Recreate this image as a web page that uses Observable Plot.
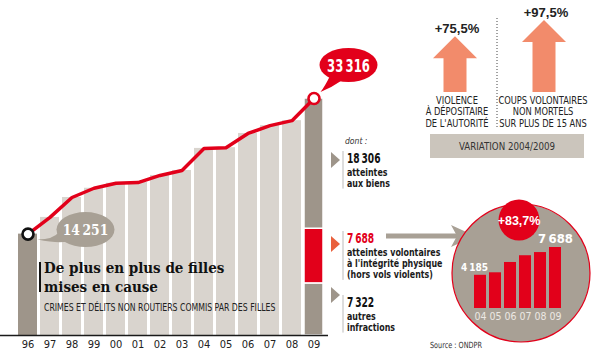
<!DOCTYPE html>
<html><head><meta charset="utf-8">
<script src="https://cdn.jsdelivr.net/npm/d3@7"></script>
<script src="https://cdn.jsdelivr.net/npm/@observablehq/plot@0.6"></script>
<style>
body{margin:0;background:#fff;}
#wrap{position:relative;width:600px;height:355px;overflow:hidden;background:#fff;}
#wrap svg{position:absolute;left:0;top:0;}
</style></head><body><div id="wrap"></div>
<script>
// ---- data ----
const years = ["96","97","98","99","00","01","02","03","04","05","06","07","08","09"];
const totals = [14251,16600,19400,20700,21400,21500,22500,23200,26300,26400,28400,29500,30200,33316];
const segLabels = ["autres infractions","atteintes volontaires à l'intégrité physique","atteintes aux biens"];
const segValues = [7322, 7688, 18306];
const insetYears = ["04","05","06","07","08","09"];
const insetValues = [4185,4500,5800,6650,7050,7688];
const insetChange = "+83,7%";
const varLabels = [["VIOLENCE","À DÉPOSITAIRE","DE L'AUTORITÉ"],["COUPS VOLONTAIRES","NON MORTELS","SUR PLUS DE 15 ANS"]];
const varValues = [75.5, 97.5];
const varTitle = "VARIATION 2004/2009";
const title = ["De plus en plus de filles","mises en cause"];
const subtitle = "CRIMES ET DÉLITS NON ROUTIERS COMMIS PAR DES FILLES";
const source = "Source : ONDPR";

// ---- style ----
const RED="#e2001a", DARK="#9e958a", LIGHT="#d9d4ce", CIRC="#a8a095", SALMON="#f28b6b", ORANGE="#e9603c";
const NARROW="'Liberation Sans Narrow','DejaVu Sans Condensed',sans-serif";
const SANS="'Liberation Sans',Arial,sans-serif";
const SERIF="'DejaVu Serif Condensed','DejaVu Serif',serif";
const fmt = v => String(v).replace(/\B(?=(\d{3})+(?!\d))/g, "\u2009");

const rows = years.map((y,i)=>({year:y,total:totals[i]}));
const lastYear = years[years.length-1];
const segColors = [DARK, RED, DARK];
const segRows = segValues.map((v,i)=>({year:lastYear,label:segLabels[i],value:v,color:segColors[i]}));

const main = Plot.plot({
  width:600, height:355, marginTop:0, marginLeft:0, marginRight:272, marginBottom:20,
  style:{fontFamily:NARROW, fontSize:"11px", color:"#222", background:"transparent"},
  x:{domain:years, range:[9.4,332], padding:0.15, tickSize:0, tickPadding:5, label:null},
  y:{domain:[0,33316], range:[335,98], axis:null},
  color:{type:"identity"},
  marks:[
    Plot.barY(rows.filter(d=>d.year!==lastYear),{x:"year",y:"total",fill:d=>d.year===years[0]?DARK:LIGHT}),
    Plot.barY(segRows,{x:"year",y:"value",fill:"color",stroke:"white",strokeWidth:1.5}),
    Plot.ruleY([0],{stroke:"#1a1a1a",strokeWidth:1.3}),
    Plot.line(rows,{x:"year",y:"total",stroke:RED,strokeWidth:3.5}),
    Plot.dot([rows[0],rows[rows.length-1]],{x:"year",y:"total",r:5.5,fill:"white",stroke:d=>d.year===years[0]?"#111":RED,strokeWidth:2.6})
  ]
});

const xs = main.scale("x"), ys = main.scale("y");
const cx = y => xs.apply(y) + xs.bandwidth/2;
const g = d3.select(main).append("g");
// text helper; sx = horizontal condensing factor, arrays = multi-line via tspans
function txt(x,y,s,o={}){
  const sx=o.sx||1;
  const t=g.append("text").attr("transform",`translate(${x},${y}) scale(${sx},1)`)
    .attr("font-family",o.family||NARROW).attr("font-size",o.size||11)
    .attr("font-weight",o.weight||"normal").attr("font-style",o.style||"normal")
    .attr("fill",o.fill||"#222").attr("text-anchor",o.anchor||"start");
  if(Array.isArray(s)){
    s.forEach((l,i)=>t.append("tspan").attr("x",0).attr("dy",i?(o.lh||11.5):0).text(l));
  } else t.text(s);
  return t;
}

// bubble 09
{
  const px=cx(lastYear), py=ys.apply(totals[totals.length-1]);
  const bx=px+35, by=py-33;
  g.append("path").attr("d",`M${bx-18},${by+10} Q${bx-24},${by+22} ${px+7},${py-6} Q${bx-16},${by+22} ${bx-6},${by+15} Z`).attr("fill",RED);
  g.append("ellipse").attr("cx",bx).attr("cy",by).attr("rx",29).attr("ry",17).attr("fill",RED);
  txt(bx,by+6.5,fmt(totals[totals.length-1]),{size:18,weight:"bold",fill:"white",anchor:"middle",sx:0.72});
}
// bubble 96
{
  const px=cx(years[0]), py=ys.apply(totals[0]);
  const bx=px+58, by=py-4;
  g.append("path").attr("d",`M${bx-26},${by+2} Q${bx-32},${by+10} ${px+10},${py+6} Q${bx-28},${by+14} ${bx-18},${by+12} Z`).attr("fill",CIRC);
  g.append("ellipse").attr("cx",bx).attr("cy",by).attr("rx",29).attr("ry",17.5).attr("fill",CIRC);
  txt(bx,by+5,fmt(totals[0]),{family:SERIF,size:14.5,weight:"bold",fill:"white",anchor:"middle",sx:0.95});
}
// title
g.append("rect").attr("x",39).attr("y",262).attr("width",2).attr("height",30).attr("fill","#111");
txt(44,273,title,{family:SERIF,size:15,weight:"bold",fill:"#111",lh:19});
txt(44,311,subtitle,{size:10,fill:"#222",sx:0.865});

// right annotations
const tx=347;
txt(345,144,"dont :",{size:9.5,style:"italic",fill:"#333",sx:0.9});
const groups=[
  {y:163,num:fmt(segValues[2]),lines:["atteintes","aux biens"],color:"#111",tri:DARK,ty:160},
  {y:243,num:fmt(segValues[1]),lines:["atteintes volontaires","à l'intégrité physique","(hors vols violents)"],color:RED,tri:ORANGE,ty:244},
  {y:307,num:fmt(segValues[0]),lines:["autres","infractions"],color:"#111",tri:DARK,ty:295}
];
groups.forEach(gr=>{
  g.append("path").attr("d",`M331,${gr.ty-8} L340,${gr.ty} L331,${gr.ty+8} Z`).attr("fill",gr.tri);
  g.append("line").attr("x1",343).attr("x2",343).attr("y1",gr.y-12).attr("y2",gr.y+3+gr.lines.length*11.3).attr("stroke","#bbb").attr("stroke-width",1);
  txt(tx,gr.y,gr.num,{size:14.5,weight:"bold",fill:gr.color,sx:0.7});
  txt(tx,gr.y+13,gr.lines,{size:11,weight:"bold",fill:"#1a1a1a",sx:0.8,lh:11.2});
});
// gray arrow to inset
g.append("rect").attr("x",386).attr("y",233.5).attr("width",72).attr("height",5).attr("fill",CIRC);
g.append("path").attr("d","M451,225 L475,236 L451,247 L457,236 Z").attr("fill",CIRC);

// inset circles
g.append("circle").attr("cx",521).attr("cy",273).attr("r",69).attr("fill",CIRC).attr("stroke",RED).attr("stroke-width",1.2);
g.append("circle").attr("cx",519).attr("cy",220).attr("r",20.5).attr("fill",RED);
txt(519,225,insetChange,{family:SANS,size:12.5,weight:"bold",fill:"white",anchor:"middle"});
txt(430,348,source,{size:8.5,fill:"#333",sx:0.85});

// top variation arrows
{
  const ya = d3.scaleLinear([0, d3.max(varValues)],[92,20]);
  const centers=[455,544];
  varValues.forEach((v,i)=>{
    const c=centers[i], top=ya(v), hb=top+22, sw=11.5, hw=22;
    g.append("path").attr("d",`M${c},${top} L${c+hw},${hb} L${c+sw},${hb} L${c+sw},92 L${c-sw},92 L${c-sw},${hb} L${c-hw},${hb} Z`).attr("fill",SALMON);
    txt(c+2,top-3,"+"+String(v).replace(".",",")+"%",{family:SANS,size:13,weight:"bold",fill:"#222",anchor:"middle"});
    txt(c+(i?-1:2),104,varLabels[i],{size:10.5,fill:"#222",anchor:"middle",sx:0.88,lh:11.5});
  });
  g.append("line").attr("x1",497).attr("x2",497).attr("y1",18).attr("y2",127).attr("stroke","#444").attr("stroke-dasharray","1,2");
  g.append("rect").attr("x",430).attr("y",134).attr("width",154).attr("height",24).attr("fill","#cbc5bc");
  txt(507,150,varTitle,{size:10.5,fill:"#333",anchor:"middle",sx:0.92});
}

// inset bar chart
const irows = insetYears.map((y,i)=>({year:y,value:insetValues[i]}));
const inset = Plot.plot({
  width:600, height:355, marginTop:0, marginLeft:0, marginRight:0, marginBottom:47,
  style:{fontFamily:NARROW, fontSize:"10.5px", color:"#ece8e3", background:"transparent"},
  x:{domain:insetYears, range:[469.6,564.8], padding:0.22, tickSize:0, tickPadding:4, label:null},
  y:{domain:[0,7688], range:[308,247], axis:null},
  marks:[
    Plot.barY(irows,{x:"year",y:"value",fill:RED}),
    Plot.text([irows[0]],{x:"year",y:"value",text:d=>fmt(d.value),dy:-7,dx:-6,fill:"white",fontWeight:"bold",fontSize:10}),
    Plot.text([irows[irows.length-1]],{x:"year",y:"value",text:d=>fmt(d.value),dy:-9,fill:"white",fontWeight:"bold",fontSize:13})
  ]
});

const wrap=document.getElementById("wrap");
wrap.appendChild(main);
wrap.appendChild(inset);
</script></body></html>
